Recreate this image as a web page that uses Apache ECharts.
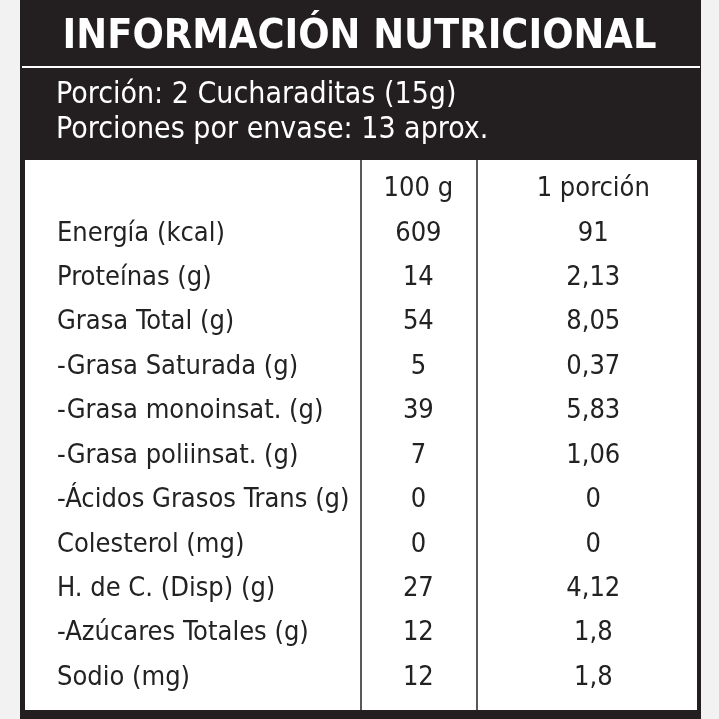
<!DOCTYPE html>
<html>
<head>
<style>
html, body { margin: 0; padding: 0; background: #f2f2f2; }
#graphElem { width: 719px; height: 719px; }
</style>
</head>
<body>
<div id="graphElem"></div>
<script src="https://cdn.jsdelivr.net/npm/echarts@6/dist/echarts.min.js"></script>
<script>

let titleText = "INFORMACIÓN NUTRICIONAL";
let servingLines = ["Porción: 2 Cucharaditas (15g)", "Porciones por envase: 13 aprox."];
let columnNames = ["100 g", "1 porción"];
let rowNames = [
	"Energía (kcal)", "Proteínas (g)", "Grasa Total (g)", "-Grasa Saturada (g)",
	"-Grasa monoinsat. (g)", "-Grasa poliinsat. (g)", "-Ácidos Grasos Trans (g)",
	"Colesterol (mg)", "H. de C. (Disp) (g)", "-Azúcares Totales (g)", "Sodio (mg)"
];
let per100g = ["609", "14", "54", "5", "39", "7", "0", "0", "27", "12", "12"];
let perPortion = ["91", "2,13", "8,05", "0,37", "5,83", "1,06", "0", "0", "4,12", "1,8", "1,8"];

let font = "'Liberation Sans Narrow', 'DejaVu Sans Condensed', sans-serif";
let categories = [""].concat(rowNames);

let cells = [];
columnNames.forEach((name, col) => cells.push([col, "", name]));
rowNames.forEach((name, i) => {
	cells.push([0, name, per100g[i]]);
	cells.push([1, name, perPortion[i]]);
});

let chart = echarts.init(document.getElementById("graphElem"));

chart.setOption({
	animation: false,
	graphic: [
		{ type: "rect", shape: { x: 20, y: 0, width: 681, height: 719 }, style: { fill: "#231f20" }, z: -10 },
		{ type: "text", left: "center", top: 17, style: { text: titleText, fill: "#fff", font: "bold 41px " + font } },
		{ type: "line", shape: { x1: 22, y1: 67, x2: 700, y2: 67 }, style: { stroke: "#fff", lineWidth: 2 } },
		{ type: "text", left: 56, top: 78, style: { text: servingLines.join("\n"), fill: "#fff", font: "30px " + font, lineHeight: 35 } },
		{ type: "rect", shape: { x: 25, y: 160, width: 672, height: 550 }, style: { fill: "#fff" }, z: -5 },
		{ type: "line", shape: { x1: 361, y1: 160, x2: 361, y2: 710 }, style: { stroke: "#222", lineWidth: 1.5 } },
		{ type: "line", shape: { x1: 477, y1: 160, x2: 477, y2: 710 }, style: { stroke: "#222", lineWidth: 1.5 } }
	],
	grid: { left: 361, right: 22, top: 167, height: 533 },
	xAxis: { type: "value", min: -0.328, max: 1.593, show: false },
	yAxis: {
		type: "category",
		data: categories,
		inverse: true,
		axisLine: { show: false },
		axisTick: { show: false },
		splitLine: { show: false },
		axisLabel: { align: "left", margin: 304, color: "#222", fontFamily: font, fontSize: 27 }
	},
	series: [{
		type: "scatter",
		symbolSize: 0,
		itemStyle: { opacity: 1, color: "#222" },
		data: cells,
		label: {
			show: true,
			position: "inside",
			formatter: p => p.value[2],
			color: "#222",
			opacity: 1,
			fontFamily: font,
			fontSize: 27
		}
	}]
});

</script>
</body>
</html>
